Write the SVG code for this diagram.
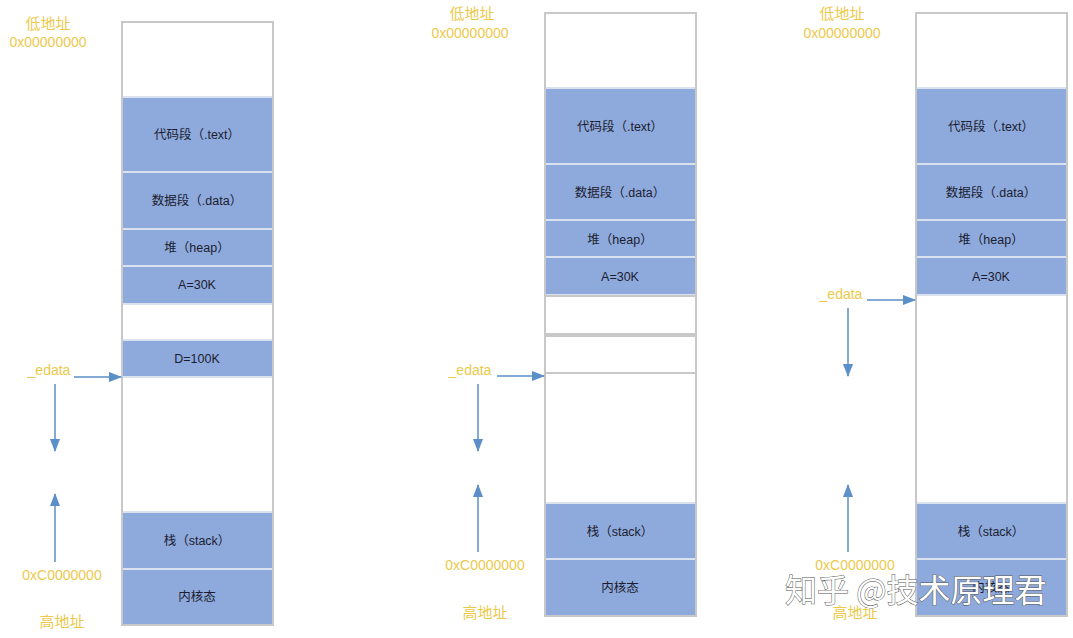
<svg xmlns="http://www.w3.org/2000/svg" width="1073" height="638" viewBox="0 0 1073 638">
<style>
.seg{fill:#8eaadc;stroke:#dbe2ef;stroke-width:2}
.wseg{fill:#ffffff;stroke:#c8c8c8;stroke-width:2}
.col{fill:none;stroke:#c8c8c8;stroke-width:2}
.lbl{font-family:"Liberation Sans","Noto Sans CJK SC",sans-serif;font-size:12.5px;fill:#1c1c30;text-anchor:middle}
.addr{font-family:"Liberation Sans","Noto Sans CJK SC",sans-serif;font-size:14px;fill:#ecc94b;text-anchor:middle}
.addrcn{font-family:"Noto Sans CJK SC",sans-serif;font-size:15px;fill:#ecc94b;text-anchor:middle}
.arr{stroke:#5a8fc8;stroke-width:1.5;fill:none;marker-end:url(#ah)}
.wm{font-family:"Noto Sans CJK SC",sans-serif;font-size:32px;fill:#ffffff;stroke:#555;stroke-width:1;paint-order:stroke}
</style>
<defs>
<marker id="ah" markerUnits="userSpaceOnUse" markerWidth="14" markerHeight="12" refX="12" refY="5" orient="auto">
<path d="M0,0 L13,5 L0,10 Z" fill="#5a8fc8"/>
</marker>
</defs>
<rect width="1073" height="638" fill="#ffffff"/>

<g id="panel1">
<rect class="wseg" x="122" y="22" width="151" height="603"/>
<rect class="seg" x="122" y="97" width="151" height="75"/>
<rect class="seg" x="122" y="172" width="151" height="57"/>
<rect class="seg" x="122" y="229" width="151" height="37"/>
<rect class="seg" x="122" y="266" width="151" height="38"/>
<rect class="seg" x="122" y="340" width="151" height="37"/>
<rect class="seg" x="122" y="512" width="151" height="57"/>
<rect class="seg" x="122" y="569" width="151" height="56"/>
<rect class="col" x="122" y="22" width="151" height="603"/>
<text class="lbl" x="197" y="139">代码段（.text）</text>
<text class="lbl" x="197" y="205">数据段（.data）</text>
<text class="lbl" x="197" y="252">堆（heap）</text>
<text class="lbl" x="197" y="289">A=30K</text>
<text class="lbl" x="197" y="363">D=100K</text>
<text class="lbl" x="197" y="545">栈（stack）</text>
<text class="lbl" x="197" y="601">内核态</text>
<text class="addrcn" x="48" y="29">低地址</text>
<text class="addr" x="48" y="47">0x00000000</text>
<text class="addr" x="49" y="375">_edata</text>
<text class="addr" x="62" y="580">0xC0000000</text>
<text class="addrcn" x="62" y="627">高地址</text>
</g>

<g id="panel2">
<rect class="wseg" x="545" y="13" width="151" height="603"/>
<rect class="seg" x="545" y="88" width="151" height="76"/>
<rect class="seg" x="545" y="164" width="151" height="56"/>
<rect class="seg" x="545" y="220" width="151" height="37"/>
<rect class="seg" x="545" y="257" width="151" height="38"/>
<rect class="wseg" x="545" y="296" width="151" height="38"/>
<rect class="wseg" x="545" y="336" width="151" height="37"/>
<rect class="seg" x="545" y="503" width="151" height="56"/>
<rect class="seg" x="545" y="559" width="151" height="57"/>
<rect class="col" x="545" y="13" width="151" height="603"/>
<text class="lbl" x="620" y="131">代码段（.text）</text>
<text class="lbl" x="620" y="197">数据段（.data）</text>
<text class="lbl" x="620" y="244">堆（heap）</text>
<text class="lbl" x="620" y="281">A=30K</text>
<text class="lbl" x="620" y="536">栈（stack）</text>
<text class="lbl" x="620" y="592">内核态</text>
<text class="addrcn" x="472" y="19">低地址</text>
<text class="addr" x="470" y="38">0x00000000</text>
<text class="addr" x="470" y="375">_edata</text>
<text class="addr" x="485" y="570">0xC0000000</text>
<text class="addrcn" x="485" y="618">高地址</text>
</g>

<g id="panel3">
<rect class="wseg" x="916" y="13" width="151" height="603"/>
<rect class="seg" x="916" y="88" width="151" height="76"/>
<rect class="seg" x="916" y="164" width="151" height="56"/>
<rect class="seg" x="916" y="220" width="151" height="37"/>
<rect class="seg" x="916" y="257" width="151" height="38"/>
<rect class="seg" x="916" y="503" width="151" height="56"/>
<rect class="seg" x="916" y="559" width="151" height="57"/>
<rect class="col" x="916" y="13" width="151" height="603"/>
<text class="lbl" x="991" y="131">代码段（.text）</text>
<text class="lbl" x="991" y="197">数据段（.data）</text>
<text class="lbl" x="991" y="244">堆（heap）</text>
<text class="lbl" x="991" y="281">A=30K</text>
<text class="lbl" x="991" y="536">栈（stack）</text>
<text class="lbl" x="991" y="592">内核态</text>
<text class="addrcn" x="842" y="19">低地址</text>
<text class="addr" x="842" y="38">0x00000000</text>
<text class="addr" x="841" y="299">_edata</text>
<text class="addr" x="855" y="570">0xC0000000</text>
<text class="addrcn" x="855" y="618">高地址</text>
</g>

<g id="connectors">
<line class="arr" x1="74" y1="377" x2="121" y2="377"/>
<line class="arr" x1="55" y1="384" x2="55" y2="451"/>
<line class="arr" x1="55" y1="562" x2="55" y2="494"/>
<line class="arr" x1="497" y1="376" x2="544" y2="376"/>
<line class="arr" x1="478" y1="384" x2="478" y2="451"/>
<line class="arr" x1="478" y1="552" x2="478" y2="485"/>
<line class="arr" x1="867" y1="300" x2="915" y2="300"/>
<line class="arr" x1="848" y1="308" x2="848" y2="376"/>
<line class="arr" x1="848" y1="552" x2="848" y2="485"/>
</g>

<text class="wm" x="785" y="602">知乎 @技术原理君</text>
</svg>
